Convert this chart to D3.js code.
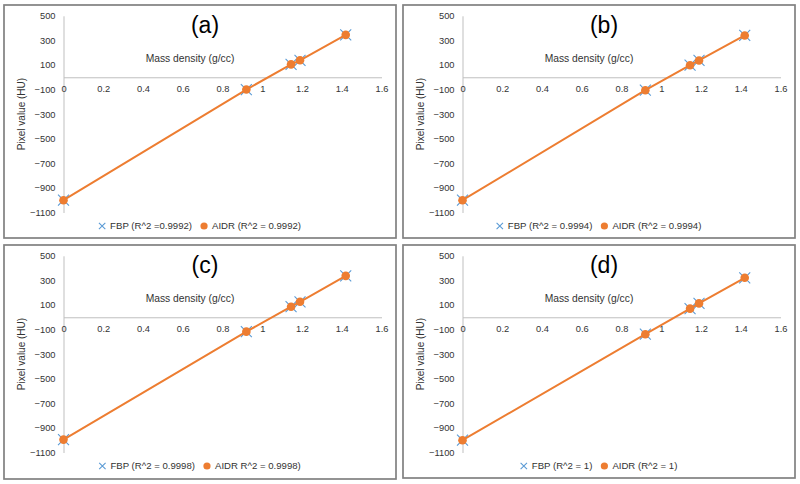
<!DOCTYPE html>
<html>
<head>
<meta charset="utf-8">
<script src="https://cdn.jsdelivr.net/npm/d3@7"></script>
<style>
  html, body { margin: 0; padding: 0; background: #fff; }
  svg { display: block; font-family: "Liberation Sans", Arial, sans-serif; }
</style>
</head>
<body>
<svg id="chart" width="800" height="484"></svg>
<script>
// ---- Data ----
const density = [0, 0.92, 1.145, 1.19, 1.42];

const panelLabels = ["(a)", "(b)", "(c)", "(d)"];

const fbpA  = [-1000, -100, 105, 138, 345];
const aidrA = [-1000, -100, 105, 138, 345];
const fbpB  = [-1000, -105, 98, 137, 340];
const aidrB = [-1000, -105, 98, 137, 340];
const fbpC  = [-995, -117, 86, 126, 337];
const aidrC = [-995, -117, 86, 126, 337];
const fbpD  = [-1000, -138, 70, 113, 321];
const aidrD = [-1000, -138, 70, 113, 321];

const fbpLegend  = ["FBP (R^2 =0.9992)", "FBP (R^2 = 0.9994)", "FBP (R^2 = 0.9998)", "FBP (R^2 = 1)"];
const aidrLegend = ["AIDR (R^2 = 0.9992)", "AIDR (R^2 = 0.9994)", "AIDR R^2 = 0.9998)", "AIDR (R^2 = 1)"];

const xTicks = [0, 0.2, 0.4, 0.6, 0.8, 1, 1.2, 1.4, 1.6];
const yTicks = [-1100, -900, -700, -500, -300, -100, 100, 300, 500];

const xTitle = "Mass density (g/cc)";
const yTitle = "Pixel value (HU)";

const fbpSeries  = [fbpA, fbpB, fbpC, fbpD];
const aidrSeries = [aidrA, aidrB, aidrC, aidrD];

// ---- Layout ----
const svg = d3.select("#chart");
const offsets = [[0, 0], [399, 0], [0, 240], [399, 240]];
const boxes = [
  {x: 4, y: 5, w: 392, h: 233},
  {x: 4, y: 5, w: 392, h: 233},
  {x: 4, y: 5, w: 392, h: 234},
  {x: 4, y: 5, w: 392, h: 233}
];

const x = d3.scaleLinear().domain([0, 1.6]).range([63.5, 381.5]);
const y = d3.scaleLinear().domain([-1100, 500]).range([212.5, 15.8]);

const BLUE = "#5B9BD5";
const ORANGE = "#ED7D31";
const AXIS = "#bfbfbf";
const TEXT = "#333333";

panelLabels.forEach((lab, i) => {
  const g = svg.append("g").attr("transform", `translate(${offsets[i][0]},${offsets[i][1]})`);
  const b = boxes[i];

  g.append("rect")
    .attr("x", b.x).attr("y", b.y).attr("width", b.w).attr("height", b.h)
    .attr("fill", "#fff").attr("stroke", "#808080").attr("stroke-width", 1.7);

  // Y axis
  const yAxis = d3.axisLeft(y).tickValues(yTicks).tickSize(0).tickPadding(8).tickFormat(d3.format("d"));
  const ya = g.append("g").attr("transform", `translate(${x(0)},0)`).call(yAxis);
  ya.select(".domain").attr("stroke", AXIS).attr("stroke-width", 1);
  ya.selectAll("text").attr("font-size", 9.3).attr("fill", TEXT).attr("font-family", "Liberation Sans, Arial, sans-serif");

  // X axis at y = 0
  const xAxis = d3.axisBottom(x).tickValues(xTicks).tickSize(0).tickPadding(8).tickFormat(d => String(+d.toFixed(1)));
  const xa = g.append("g").attr("transform", `translate(0,${y(0)})`).call(xAxis);
  xa.select(".domain").attr("stroke", AXIS).attr("stroke-width", 1);
  xa.selectAll("text").attr("font-size", 9.3).attr("fill", TEXT).attr("font-family", "Liberation Sans, Arial, sans-serif");

  // Titles
  g.append("text").attr("x", 205).attr("y", 33).attr("text-anchor", "middle")
    .attr("font-size", 23).attr("fill", "#000").text(lab);
  g.append("text").attr("x", 190).attr("y", 61.5).attr("text-anchor", "middle")
    .attr("font-size", 10.3).attr("fill", TEXT).text(xTitle);
  g.append("text").attr("transform", "translate(25,114) rotate(-90)").attr("text-anchor", "middle")
    .attr("font-size", 10).attr("fill", TEXT).text(yTitle);

  const fbp = fbpSeries[i].map((v, j) => ({x: density[j], y: v}));
  const aidr = aidrSeries[i].map((v, j) => ({x: density[j], y: v}));

  // FBP markers (x)
  const s = 5.5;
  g.append("g").selectAll("path").data(fbp).join("path")
    .attr("d", d => {
      const cx = x(d.x), cy = y(d.y);
      return `M${cx - s},${cy - s}L${cx + s},${cy + s}M${cx - s},${cy + s}L${cx + s},${cy - s}`;
    })
    .attr("stroke", BLUE).attr("stroke-width", 1.1).attr("fill", "none");

  // AIDR line + markers
  const line = d3.line().x(d => x(d.x)).y(d => y(d.y));
  g.append("path").datum(aidr).attr("d", line)
    .attr("fill", "none").attr("stroke", ORANGE).attr("stroke-width", 2);
  g.append("g").selectAll("circle").data(aidr).join("circle")
    .attr("cx", d => x(d.x)).attr("cy", d => y(d.y)).attr("r", 4.3).attr("fill", ORANGE);

  // Legend
  const lg = g.append("g");
  const ly = 226;
  const t1 = lg.append("text").attr("x", 8).attr("y", ly + 3.4).attr("font-size", 9.6).attr("fill", TEXT).text(fbpLegend[i]);
  const w1 = t1.node().getComputedTextLength();
  const x2 = 8 + w1 + 16;
  const t2 = lg.append("text").attr("x", x2 + 4).attr("y", ly + 3.4).attr("font-size", 9.6).attr("fill", TEXT).text(aidrLegend[i]);
  const w2 = t2.node().getComputedTextLength();
  const ms = 3.2;
  lg.append("path").attr("d", `M${-ms},${ly - ms}L${ms},${ly + ms}M${-ms},${ly + ms}L${ms},${ly - ms}`)
    .attr("stroke", BLUE).attr("stroke-width", 1.1);
  lg.append("circle").attr("cx", x2 - 4).attr("cy", ly).attr("r", 3.6).attr("fill", ORANGE);
  const totalL = -ms, totalR = x2 + 4 + w2;
  const shift = 200 - (totalL + totalR) / 2;
  lg.attr("transform", `translate(${shift},0)`);
});
</script>
</body>
</html>
